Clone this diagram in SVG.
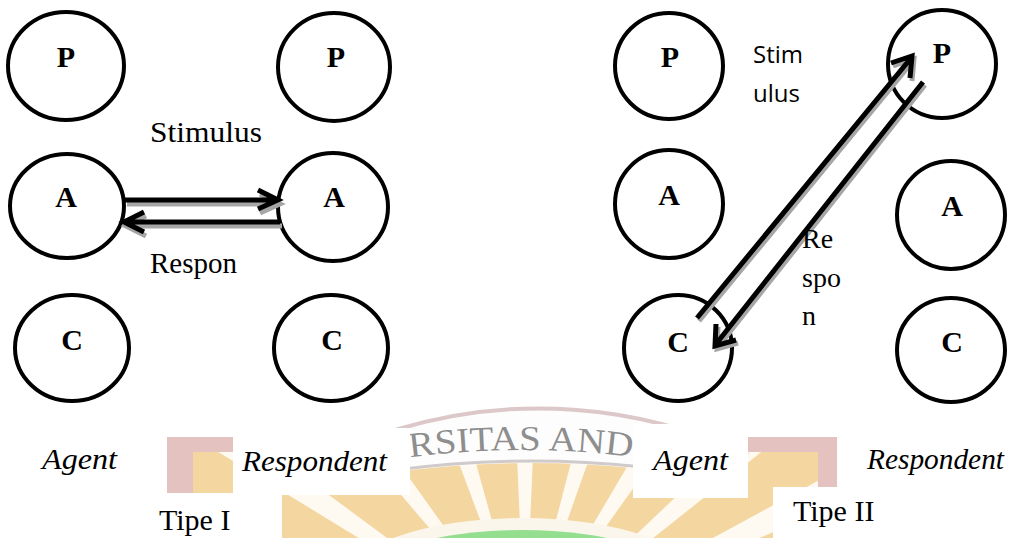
<svg xmlns="http://www.w3.org/2000/svg" width="1022" height="538" viewBox="0 0 1022 538">
<style>
.node{fill:none;stroke:#000;stroke-width:4}
.lbl{font-family:"Liberation Serif","Times New Roman",serif;font-weight:bold;font-size:30px;text-anchor:middle;fill:#000}
.serif{font-family:"Liberation Serif","Times New Roman",serif;font-size:29px;fill:#000}
.ital{font-family:"Liberation Serif","Times New Roman",serif;font-style:italic;font-size:30px;fill:#000}
.sans{font-family:"Open Sans","DejaVu Sans",sans-serif;font-size:24px;fill:#000}
.line{fill:none;stroke:#000;stroke-width:5;stroke-linecap:butt;stroke-linejoin:miter}
.shadow{fill:none;stroke:#a6a6a6;stroke-width:5;stroke-linejoin:miter}
.ray{fill:#fff;opacity:0.85}
.box{fill:#fff}
</style>
<defs>
<clipPath id="orangeClip"><rect x="193" y="452" width="625" height="90"/></clipPath>
<path id="wmArc" d="M 400,458.7 A 864 864 0 0 1 660,461"/>
</defs>
<rect x="0" y="0" width="1022" height="538" fill="#fff"/>

<!-- watermark background -->
<g id="watermark">
  <rect x="167" y="437" width="670" height="110" fill="#dcb3b0" opacity="0.8"/>
  <rect x="193" y="452" width="625" height="90" fill="#f4d6a0"/>
  <g clip-path="url(#orangeClip)">
    <polygon class="ray" points="525,640 143.5,519.7 155.4,486.9"/>
    <polygon class="ray" points="525,640 184,431 203.4,402.1"/>
    <polygon class="ray" points="525,640 265.2,335.8 292.7,314.4"/>
    <polygon class="ray" points="525,640 384.9,265.3 418.1,254.6"/>
    <polygon class="ray" points="525,640 507.6,240.4 542.4,240.4"/>
    <polygon class="ray" points="525,640 625.2,252.8 658.5,262.9"/>
    <polygon class="ray" points="525,640 728,295.4 757.3,314.4"/>
    <polygon class="ray" points="525,640 815.2,364.6 838,391"/>
    <polygon class="ray" points="525,640 876.5,449.1 891.8,480.5"/>
    <ellipse cx="522" cy="580" rx="175" ry="62" fill="#fbf6ec"/>
    <ellipse cx="522" cy="582" rx="160" ry="52" fill="#93de8f"/>
  </g>
  <path d="M 395,430 A 492 492 0 0 1 748,455 L 748,486 A 1037 1037 0 0 0 395,472 Z" fill="#fdfdfd"/>
  <path d="M 395,430 A 492 492 0 0 1 748,455" fill="none" stroke="#dcc8c8" stroke-width="4"/>
  <path d="M 395,470 A 1037 1037 0 0 1 748,484" fill="none" stroke="#d0caca" stroke-width="3"/>
  <text font-family="Liberation Serif, serif" font-size="35" fill="#8e8e8e"><textPath href="#wmArc" startOffset="10" textLength="223" lengthAdjust="spacingAndGlyphs">RSITAS AND</textPath></text>
</g>

<!-- label backing boxes -->
<rect class="box" x="233" y="428" width="177" height="67"/>
<rect class="box" x="633" y="424" width="115" height="74"/>
<rect class="box" x="140" y="493" width="142" height="45"/>
<rect class="box" x="773" y="487" width="80" height="51"/>

<!-- Tipe I nodes -->
<g id="agent1-P"><ellipse class="node" cx="66" cy="66" rx="58" ry="54"/><text class="lbl" x="66" y="67">P</text></g>
<g id="resp1-P"><ellipse class="node" cx="334" cy="67" rx="56" ry="54"/><text class="lbl" x="336" y="67">P</text></g>
<g id="agent1-A"><ellipse class="node" cx="67" cy="206" rx="57" ry="52"/><text class="lbl" x="66" y="207">A</text></g>
<g id="resp1-A"><ellipse class="node" cx="333" cy="207" rx="55" ry="54"/><text class="lbl" x="334" y="207">A</text></g>
<g id="agent1-C"><ellipse class="node" cx="72" cy="348" rx="57" ry="53"/><text class="lbl" x="72" y="350">C</text></g>
<g id="resp1-C"><ellipse class="node" cx="331" cy="348" rx="57" ry="53"/><text class="lbl" x="332" y="350">C</text></g>

<!-- Tipe II nodes -->
<g id="agent2-P"><ellipse class="node" cx="669" cy="66" rx="54" ry="53"/><text class="lbl" x="670" y="67">P</text></g>
<g id="agent2-A"><ellipse class="node" cx="669" cy="204" rx="54" ry="54"/><text class="lbl" x="669" y="205">A</text></g>
<g id="agent2-C"><ellipse class="node" cx="678" cy="348" rx="54" ry="53"/><text class="lbl" x="678" y="352">C</text></g>
<g id="resp2-P"><ellipse class="node" cx="942" cy="64" rx="54" ry="54"/><text class="lbl" x="942" y="63">P</text></g>
<g id="resp2-A"><ellipse class="node" cx="951" cy="215" rx="54" ry="54"/><text class="lbl" x="952" y="216">A</text></g>
<g id="resp2-C"><ellipse class="node" cx="951" cy="350" rx="54" ry="52"/><text class="lbl" x="952" y="352">C</text></g>

<!-- connectors -->
<g id="connectors">
  <g transform="translate(2,4)">
    <path class="shadow" d="M125,200 H276 M258,190 L278,200 L258,209"/>
    <path class="shadow" d="M280,222 H127 M144,212 L124,222 L144,232"/>
  </g>
  <path class="line" d="M125,200 H276 M258,190 L278,200 L258,209"/>
  <path class="line" d="M280,222 H127 M144,212 L124,222 L144,232"/>
  <g transform="translate(2,3)">
    <path class="shadow" d="M697,318 L911,58 M891,63 L912,56 L910,78"/>
    <path class="shadow" d="M923,82 L716,344 M736,340 L715,346 L716,324"/>
  </g>
  <path class="line" d="M697,318 L911,58 M891,63 L912,56 L910,78"/>
  <path class="line" d="M923,82 L716,344 M736,340 L715,346 L716,324"/>
</g>

<!-- connector labels -->
<g id="labels">
  <text class="serif" x="150" y="142" textLength="112" lengthAdjust="spacingAndGlyphs">Stimulus</text>
  <text class="serif" x="150" y="273">Respon</text>
  <text class="sans" x="753" y="63">Stim</text>
  <text class="sans" x="753" y="102">ulus</text>
  <text class="serif" x="802" y="248" style="font-size:28px">Re</text>
  <text class="serif" x="802" y="287" style="font-size:28px">spo</text>
  <text class="serif" x="802" y="325" style="font-size:28px">n</text>
  <text class="ital" x="42" y="469" textLength="75" lengthAdjust="spacingAndGlyphs">Agent</text>
  <text class="ital" x="242" y="471" textLength="145" lengthAdjust="spacingAndGlyphs">Respondent</text>
  <text class="ital" x="653" y="470" textLength="75" lengthAdjust="spacingAndGlyphs">Agent</text>
  <text class="ital" x="867" y="469" textLength="137" lengthAdjust="spacingAndGlyphs">Respondent</text>
  <text class="serif" x="159" y="530" style="font-size:30px">Tipe I</text>
  <text class="serif" x="793" y="521" style="font-size:30px">Tipe II</text>
</g>
</svg>
